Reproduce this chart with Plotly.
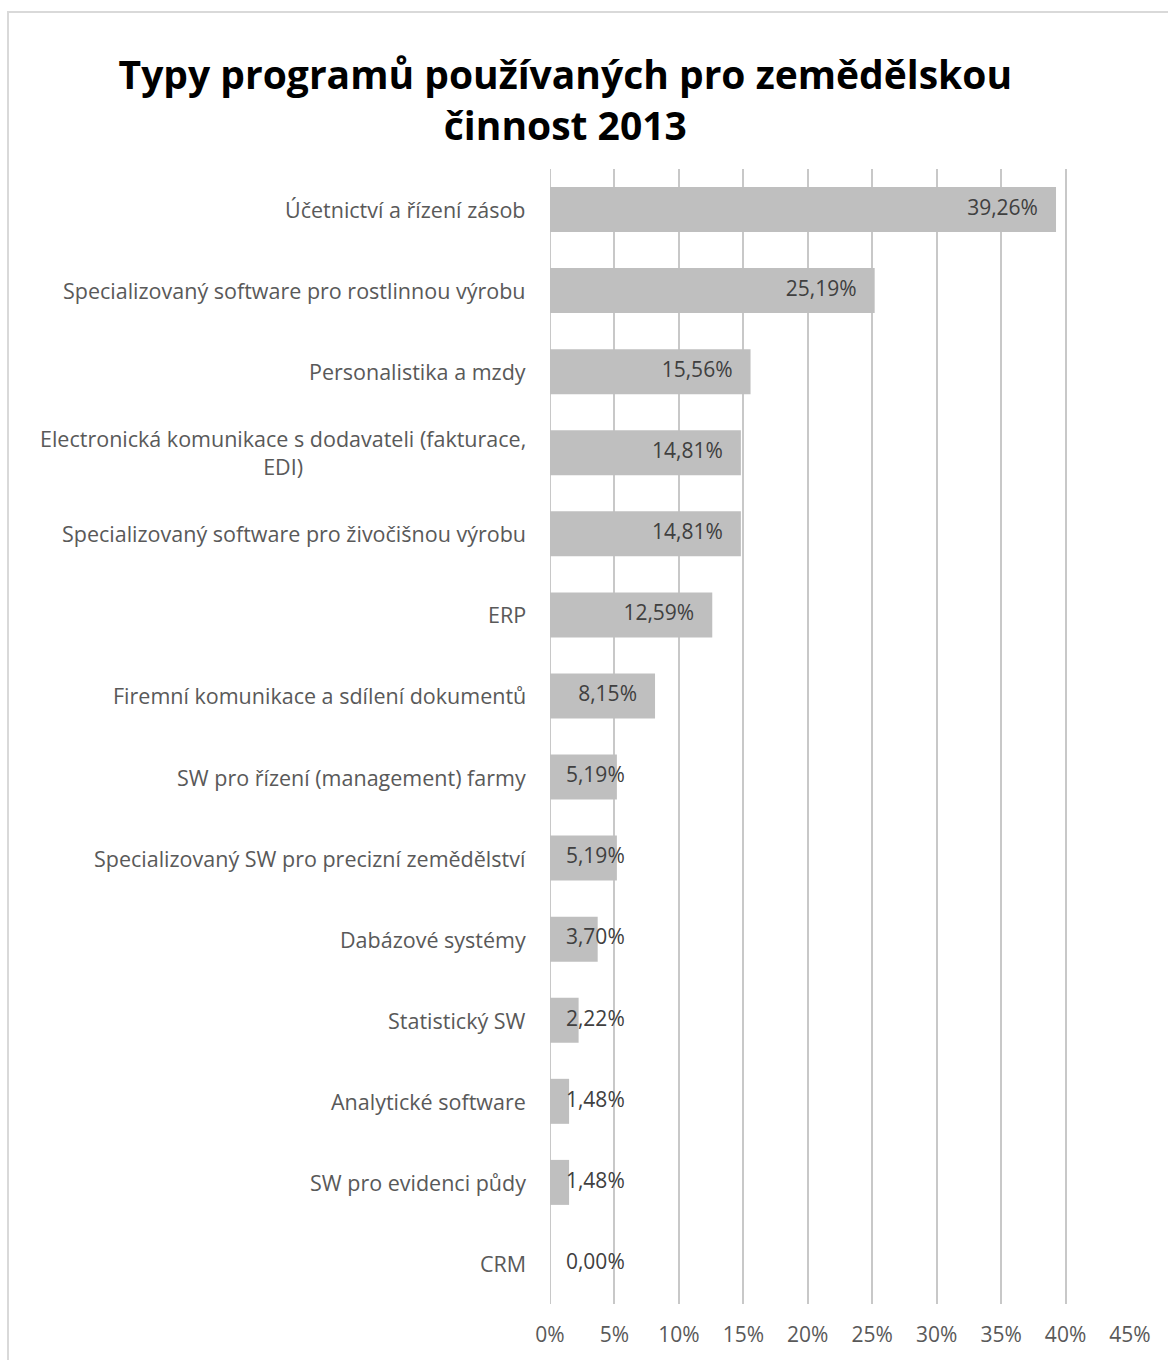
import numpy as np
import plotly.graph_objects as go

categories = [
    "Účetnictví a řízení zásob",
    "Specializovaný software pro rostlinnou výrobu",
    "Personalistika a mzdy",
    "Electronická komunikace s dodavateli (fakturace,<br>EDI)",
    "Specializovaný software pro živočišnou výrobu",
    "ERP",
    "Firemní komunikace a sdílení dokumentů",
    "SW pro řízení (management) farmy",
    "Specializovaný SW pro precizní zemědělství",
    "Dabázové systémy",
    "Statistický SW",
    "Analytické software",
    "SW pro evidenci půdy",
    "CRM",
]
values = [39.26, 25.19, 15.56, 14.81, 14.81, 12.59, 8.15, 5.19, 5.19, 3.70, 2.22, 1.48, 1.48, 0.00]
value_labels = [f"{v:.2f}%".replace(".", ",") for v in values]
tick_vals = [0, 5, 10, 15, 20, 25, 30, 35, 40, 45]
tick_text = [f"{t}%" for t in tick_vals]

FONT = "Open Sans"
vals = np.array(values)
label_x = np.maximum(vals - 1.4, 5.8)

fig = go.Figure()
fig.add_trace(go.Bar(
    y=categories, x=values, orientation="h",
    marker=dict(color="#bfbfbf", line=dict(width=0)),
    width=0.555, hoverinfo="skip",
))
fig.add_trace(go.Scatter(
    y=categories, x=label_x, mode="text", text=value_labels,
    textposition="middle left",
    textfont=dict(family=FONT, size=21, color="#404040"),
    hoverinfo="skip",
))

for c in categories:
    fig.add_annotation(
        x=0, xref="paper", xanchor="right", xshift=-22,
        y=c, yref="y", text=c, showarrow=False, align="center",
        font=dict(family=FONT, size=21.5, color="#595959"),
    )

fig.update_layout(
    width=1168, height=1360,
    margin=dict(l=550, r=38, t=169, b=56),
    paper_bgcolor="white", plot_bgcolor="white",
    showlegend=False,
    title=dict(
        text="<b>Typy programů používaných pro zemědělskou<br>činnost 2013</b>",
        x=0.484, xanchor="center", y=0.9346, yanchor="middle",
        font=dict(family=FONT, size=39, color="#000000"),
    ),
    xaxis=dict(
        range=[0, 45], tickvals=tick_vals, ticktext=tick_text,
        showgrid=True, gridcolor="#c8c8c8", gridwidth=2,
        zeroline=False, showline=False, ticks="",
        ticklabelstandoff=16,
        tickfont=dict(family=FONT, size=21, color="#595959"),
        fixedrange=True,
    ),
    yaxis=dict(
        range=[13.5, -0.5], showticklabels=False, showgrid=False,
        zeroline=False, showline=False, ticks="", fixedrange=True,
    ),
    shapes=[
        dict(type="line", xref="x", yref="paper", x0=0, x1=0, y0=0, y1=1,
             line=dict(color="#c8c8c8", width=2), layer="below"),
        dict(type="rect", xref="paper", yref="paper",
             x0=-542 / 580, x1=1.2, y0=-0.2, y1=1 + (169 - 12) / 1135,
             line=dict(color="#d9d9d9", width=2), fillcolor="rgba(0,0,0,0)", layer="below"),
    ],
)

fig.write_html("out.html")
